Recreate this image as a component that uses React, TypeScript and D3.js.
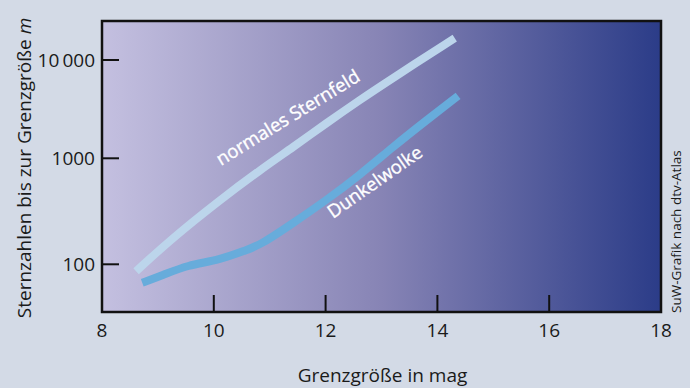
import React from 'react';
import * as d3 from 'd3';

// Grenzgröße (mag) and star counts
const normalMag = [8.61, 9.22, 10.11, 10.83, 11.42, 12.02, 12.61, 13.15, 14.31];
const normalCount = [86, 170, 405, 776, 1300, 2290, 3920, 6270, 16700];

const darkMag = [8.72, 9.09, 9.52, 10.11, 10.59, 10.83, 11.42, 12.02, 12.61, 13.2, 13.81, 14.37];
const darkCount = [67, 79, 98, 110, 137, 152, 245, 405, 695, 1300, 2455, 4310];

const xTicks = [8, 10, 12, 14, 16, 18];
const yTicks = [100, 1000, 10000];
const yTickLabels = ['100', '1000', '10\u2009000'];

const W = 690;
const H = 388;
const left = 102;
const right = 661;
const top = 21;
const bottom = 312;

const font = '"Open Sans", sans-serif';

export default function App() {
  const x = d3.scaleLinear().domain([8, 18]).range([left, right]);
  // the original axis is not quite uniform per decade
  const y = d3.scaleLog().domain([100, 1000, 10000]).range([264.3, 158.3, 60]);

  const line = d3
    .line<[number, number]>()
    .x((d) => x(d[0]))
    .y((d) => y(d[1]))
    .curve(d3.curveBasis);

  const normalPath = line(normalMag.map((m, i) => [m, normalCount[i]])) || '';
  const darkPath = line(darkMag.map((m, i) => [m, darkCount[i]])) || '';

  return (
    <svg
      width={W}
      height={H}
      style={{ position: 'absolute', left: 0, top: 0, display: 'block' }}
      fontFamily={font}
    >
      <defs>
        <linearGradient id="sky" x1="0" x2="1" y1="0" y2="0">
          <stop offset="0" stopColor="#c4c0e0" />
          <stop offset="0.5" stopColor="#8784b5" />
          <stop offset="1" stopColor="#2b3c88" />
        </linearGradient>
      </defs>
      <rect x={0} y={0} width={W} height={H} fill="#d3dae6" />
      <rect x={left} y={top} width={right - left} height={bottom - top} fill="url(#sky)" />

      <path d={normalPath} fill="none" stroke="#bcd5eb" strokeWidth={8} />
      <path d={darkPath} fill="none" stroke="#67acdb" strokeWidth={8} />

      <text
        transform="translate(221,166) rotate(-31.5)"
        fill="#fff"
        stroke="#fff"
        strokeWidth={0.35}
        fontSize={18.5}
      >
        normales Sternfeld
      </text>
      <text
        transform="translate(333,219) rotate(-35)"
        fill="#fff"
        stroke="#fff"
        strokeWidth={0.35}
        fontSize={18.5}
      >
        Dunkelwolke
      </text>

      {yTicks.map((t) => (
        <line key={'y' + t} x1={left} x2={left + 17} y1={y(t)} y2={y(t)} stroke="#111" strokeWidth={2} />
      ))}
      {xTicks.slice(1, -1).map((t) => (
        <line key={'x' + t} x1={x(t)} x2={x(t)} y1={bottom} y2={bottom - 17} stroke="#111" strokeWidth={2} />
      ))}
      <rect
        x={left}
        y={top}
        width={right - left}
        height={bottom - top}
        fill="none"
        stroke="#111"
        strokeWidth={2.5}
      />

      {yTicks.map((t, i) => (
        <text
          key={'yl' + t}
          x={left - 7}
          y={y(t)}
          dy="0.35em"
          textAnchor="end"
          fontSize={19}
          fill="#1a1a1a"
        >
          {yTickLabels[i]}
        </text>
      ))}
      {xTicks.map((t) => (
        <text key={'xl' + t} x={x(t)} y={337} textAnchor="middle" fontSize={19} fill="#1a1a1a">
          {t}
        </text>
      ))}

      <text x={(left + right) / 2 + 1} y={382} textAnchor="middle" fontSize={19} fill="#1a1a1a">
        Grenzgröße in mag
      </text>
      <text
        transform="translate(31,168) rotate(-90)"
        textAnchor="middle"
        fontSize={19}
        fill="#1a1a1a"
      >
        Sternzahlen bis zur Grenzgröße <tspan fontStyle="italic">m</tspan>
      </text>
      <text
        transform="translate(681,313) rotate(-90)"
        textAnchor="start"
        fontSize={13.5}
        fill="#1a1a1a"
      >
        SuW-Grafik nach dtv-Atlas
      </text>
    </svg>
  );
}
